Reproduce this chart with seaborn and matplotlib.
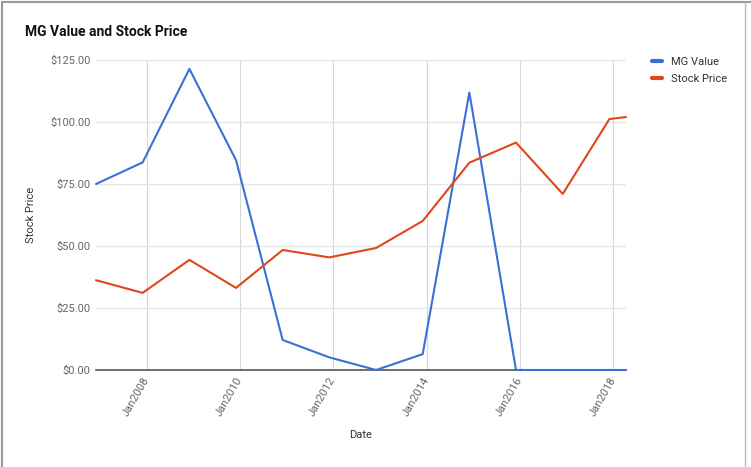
import matplotlib
matplotlib.use('Agg')
import matplotlib.pyplot as plt
import matplotlib.dates as mdates
from matplotlib.ticker import FuncFormatter
import pandas as pd
import seaborn as sns

sns.set_style('white')
plt.rcParams['font.family'] = ['Roboto', 'DejaVu Sans']

# データ (各年12月の値、最後は2018年4月)
dates = ['2006-12-01', '2007-12-01', '2008-12-01', '2009-12-01', '2010-12-01',
         '2011-12-01', '2012-12-01', '2013-12-01', '2014-12-01', '2015-12-01',
         '2016-12-01', '2017-12-01', '2018-04-10']
mg_value = [75.0, 83.7, 121.4, 84.6, 12.1, 5.1, 0.0, 6.4, 111.9, 0.0, 0.0, 0.0, 0.0]
stock_price = [36.2, 31.1, 44.4, 33.1, 48.4, 45.4, 49.2, 60.1, 83.6, 91.7, 71.0, 101.2, 102.0]
series_names = ['MG Value', 'Stock Price']
tick_years = [2008, 2010, 2012, 2014, 2016, 2018]

df = pd.DataFrame({'Date': pd.to_datetime(dates),
                   series_names[0]: mg_value,
                   series_names[1]: stock_price})
long_df = df.melt(id_vars='Date', var_name='series', value_name='price')

fig = plt.figure(figsize=(7.51, 4.67), dpi=100)
W, H = 751, 467
ax = fig.add_axes([96 / W, 1 - 370 / H, 530 / W, 310 / H])

sns.lineplot(data=long_df, x='Date', y='price', hue='series',
             palette=['#3a6fd8', '#e0461c'], linewidth=1.5, ax=ax)
for ln in ax.get_lines():
    ln.set_clip_on(False)
    ln.set_zorder(3)

# 軸まわり
ax.set_ylim(0, 125)
ax.set_xlim(pd.Timestamp('2006-12-01'), pd.Timestamp('2018-04-10'))
ax.set_yticks([0, 25, 50, 75, 100, 125])
ax.yaxis.set_major_formatter(FuncFormatter(lambda v, p: '${:,.2f}'.format(v)))
ax.set_xticks([pd.Timestamp(f'{y}-01-01') for y in tick_years])
ax.xaxis.set_major_formatter(mdates.DateFormatter('%b%Y'))

ax.grid(axis='y', color='#e6e6e6', linewidth=1)
ax.grid(axis='x', color='#d6d6d6', linewidth=0.8)
ax.set_axisbelow(True)
for s in ['top', 'right', 'left']:
    ax.spines[s].set_visible(False)
ax.spines['bottom'].set_color('#555555')
ax.spines['bottom'].set_linewidth(1.2)
ax.spines['bottom'].set_zorder(1)

ax.tick_params(axis='both', length=0, colors='#666666', labelsize=8)
ax.tick_params(axis='y', pad=4)
ax.tick_params(axis='x', pad=6)
for lbl in ax.get_xticklabels():
    lbl.set_rotation(60)
    lbl.set_ha('right')
    lbl.set_va('center')
    lbl.set_rotation_mode('anchor')

ax.set_xlabel('Date', fontsize=8, color='#333333')
ax.xaxis.set_label_coords(0.5, -0.195)
ax.set_ylabel('Stock Price', fontsize=8, color='#333333')
ax.yaxis.set_label_coords(-0.114, 0.5)

# 凡例
handles, labels = ax.get_legend_handles_labels()
for h in handles:
    h.set_linewidth(3)
ax.legend(handles, labels, loc='upper left', bbox_to_anchor=(642 / W, 1 - 47 / H),
          bbox_transform=fig.transFigure, frameon=False, fontsize=8,
          handlelength=0.9, handletextpad=0.8, labelspacing=0.6,
          labelcolor='#333333')

fig.text(25 / W, 1 - 32 / H, 'MG Value and Stock Price', fontsize=10,
         fontweight='bold', color='#111111', va='center', ha='left')

# スクリーンショットの枠
fig.add_artist(plt.Line2D([2 / W, 2 / W], [0, 1 - 2 / H], color='#999999', lw=1.5))
fig.add_artist(plt.Line2D([2 / W, 1], [1 - 2 / H, 1 - 2 / H], color='#999999', lw=1.5))
fig.add_artist(plt.Line2D([745 / W, 745 / W], [0, 1 - 2 / H], color='#bbbbbb', lw=1))

fig.savefig('out.png', dpi=100)
